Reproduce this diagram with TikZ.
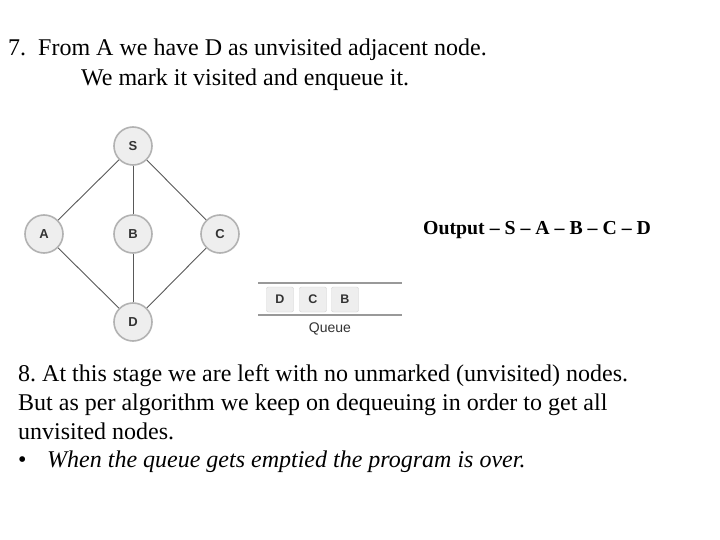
\documentclass[tikz,border=0pt]{standalone}
\usepackage{fontspec}
\setmainfont{Liberation Serif}
\setsansfont{Liberation Sans}
\frenchspacing
\begin{document}
\begin{tikzpicture}[x=1pt,y=-1pt,
  gnode/.style={circle,minimum size=38pt,inner sep=0pt,fill=gray!13,draw=gray!60,line width=1.6pt,
    font=\sffamily\bfseries\fontsize{13}{15}\selectfont,text=black!80},
  edge/.style={draw=black!65,line width=0.9pt},
  qbox/.style={rectangle,rounded corners=2pt,minimum width=27pt,minimum height=25pt,inner sep=0pt,fill=gray!13,draw=gray!35,
    font=\sffamily\bfseries\fontsize{12.5}{14}\selectfont,text=black!80},
  qline/.style={draw=gray!80,line width=1.3pt},
  txt/.style={anchor=base west,inner sep=0pt}]
\useasboundingbox (0,0) rectangle (720,540);
\fill[white] (0,0) rectangle (720,540);
% heading
\node[txt,font=\fontsize{24}{28}\selectfont] (t1) at (8,56) {7.\ \ From A we have D as unvisited adjacent node.};
\node[txt,font=\fontsize{24}{28}\selectfont] (t2) at (81,86) {We mark it visited and enqueue it.};
% graph
\node[gnode] (S) at (133,146) {S};
\node[gnode] (A) at (44,234) {A};
\node[gnode] (B) at (133,234) {B};
\node[gnode] (C) at (220,234) {C};
\node[gnode] (D) at (133,322) {D};
\draw[edge] (S) -- (A);
\draw[edge] (S) -- (B);
\draw[edge] (S) -- (C);
\draw[edge] (A) -- (D);
\draw[edge] (B) -- (D);
\draw[edge] (C) -- (D);
% queue
\coordinate (qt1) at (258,283);
\coordinate (qt2) at (402,283);
\coordinate (qb1) at (258,315);
\coordinate (qb2) at (402,315);
\draw[qline] (qt1) -- (qt2);
\draw[qline] (qb1) -- (qb2);
\node[qbox] (qD) at (280,299.5) {D};
\node[qbox] (qC) at (313,299.5) {C};
\node[qbox] (qB) at (345,299.5) {B};
\node[font=\sffamily\fontsize{14}{16}\selectfont,text=black!80] (ql) at (330,329) {Queue};
% output
\node[txt,font=\bfseries\fontsize{19.8}{22}\selectfont] (out) at (423,234) {Output -- S -- A -- B -- C -- D};
% bottom text
\node[txt,font=\fontsize{24}{28}\selectfont] (b1) at (18,381) {8. At this stage we are left with no unmarked (unvisited) nodes.};
\node[txt,font=\fontsize{24}{28}\selectfont] (b2) at (18,410) {But as per algorithm we keep on dequeuing in order to get all};
\node[txt,font=\fontsize{24}{28}\selectfont] (b3) at (18,439) {unvisited nodes.};
\node[txt,font=\fontsize{24}{28}\selectfont] (b4) at (18,467) {\textbullet};
\node[txt,font=\itshape\fontsize{24}{28}\selectfont] (b5) at (47,467) {When the queue gets emptied the program is over.};
\end{tikzpicture}
\end{document}
